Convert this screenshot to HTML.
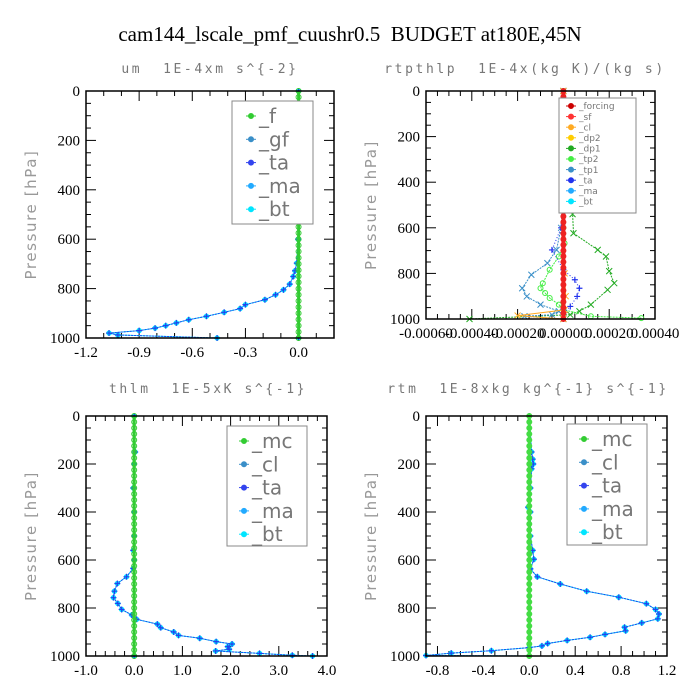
<!DOCTYPE html>
<html><head><meta charset="utf-8"><style>
body{margin:0;background:#fff;width:700px;height:700px;overflow:hidden}
svg{display:block}
text{white-space:pre}
</style></head><body>
<svg id="chart" width="700" height="700" xmlns="http://www.w3.org/2000/svg">
<text x="350" y="41" text-anchor="middle" font-family="Liberation Serif, serif" font-size="21" fill="#000">cam144_lscale_pmf_cuushr0.5  BUDGET at180E,45N</text>
</svg>
<script>
// ---------- data ----------
const zeroLevels = [0,25,50,75,100,125,150,175,200,225,250,275,300,325,350,375,400,425,450,475,500,525,550,575,600,625,650,675,700,725,750,775,800,825,850,875,900,925,950,975,1000];

// panel 1: um
const umP = [0,100,200,217,240,300,400,500,600,697,728,751,782,805,825,845,865,881,896,912,926,939,950,960,970,980,988,1000,1000];
const umV = [0,0,-0.005,-0.02,-0.005,0,0,0,-0.003,-0.01,-0.02,-0.03,-0.05,-0.085,-0.13,-0.19,-0.3,-0.33,-0.42,-0.52,-0.62,-0.69,-0.75,-0.81,-0.9,-1.07,-1.02,-0.46,0];

// panel 2: rtpthlp
const dp1P = [0,400,430,470,540,624,697,726,790,843,872,937,966,981,1000];
const dp1V = [0,0,0.00002,0.00003,0.00004,0.000044,0.00015,0.000186,0.0002,0.000222,0.000193,0.00012,0.00007,0.00003,-0.00041];
const tp2P = [0,600,668,726,784,843,865,886,908,937,959,988,996];
const tp2V = [0,0,0.000005,-0.00002,-0.00006,-0.00009,-0.0001,-0.00008,-0.00006,-0.00002,0,0.00012,0.00034];
const tp1P = [0,500,600,697,755,806,865,901,937,966,981,988,1000];
const tp1V = [0,-0.000005,-0.00001,-0.00003,-0.00007,-0.00014,-0.00018,-0.00016,-0.0001,-0.00002,-0.00005,-0.00017,0];
const taP2 = [0,500,600,697,784,828,865,901,945,974,1000];
const taV2 = [0,-0.000005,-0.00001,-0.00005,0,0.00005,0.00007,0.00006,0.00003,0,0];
const clP2 = [0,800,900,960,985,1000];
const clV2 = [0,0.000005,0.00001,0.000005,-0.0002,0];

// panel 3: thlm
const thP = [0,150,200,300,400,500,560,600,635,670,698,730,757,781,806,829,847,867,882,900,914,926,940,950,961,972,979,989,997,1000,1000];
const thV = [0,0.02,0,-0.02,0,0,-0.02,0,-0.02,-0.16,-0.35,-0.41,-0.43,-0.34,-0.26,-0.05,0.05,0.48,0.55,0.82,0.92,1.36,1.7,2.03,1.94,1.97,1.69,2.6,3.28,3.7,0];

// panel 4: rtm
const rtP = [0,150,180,200,220,300,380,400,500,560,597,637,670,700,730,755,782,806,825,845,862,880,895,910,922,935,948,958,965,978,988,998,1000];
const rtV = [0,0.02,0.03,0.035,0.02,0.01,-0.01,0.01,0.01,0.03,0.04,0.01,0.07,0.27,0.5,0.78,1.02,1.1,1.13,1.12,0.98,0.83,0.84,0.66,0.53,0.33,0.16,0.11,0,-0.33,-0.68,-0.9,0];

// ticks
const xTicks1 = [-1.2,-0.9,-0.6,-0.3,0.0];
const xTickLabels1 = ["-1.2","-0.9","-0.6","-0.3","0.0"];
const xTicks2 = [-0.0006,-0.0004,-0.0002,0,0.0002,0.0004];
const xTickLabels2 = ["-0.00060","-0.00040","-0.00020","0.00000","0.00020","0.00040"];
const xTicks3 = [-1,0,1,2,3,4];
const xTickLabels3 = ["-1.0","0.0","1.0","2.0","3.0","4.0"];
const xTicks4 = [-0.8,-0.4,0,0.4,0.8,1.2];
const xTickLabels4 = ["-0.8","-0.4","0.0","0.4","0.8","1.2"];
const yTicks = [0,200,400,600,800,1000];
const yTickLabels = ["0","200","400","600","800","1000"];

// ---------- drawing ----------
const svg = document.getElementById('chart');
const NS = 'http://www.w3.org/2000/svg';
function mk(tag, attrs, parent){
  const e = document.createElementNS(NS, tag);
  for (const k in attrs) e.setAttribute(k, attrs[k]);
  (parent||svg).appendChild(e);
  return e;
}

function panel(cfg){
  const g = mk('g', {});
  
  
  const L=cfg.l,R=cfg.r,T=cfg.t,B=cfg.b;
  const xs = v => L + (v - cfg.xmin)/(cfg.xmax - cfg.xmin)*(R-L);
  const ys = p => T + p/1000*(B-T);
  const sub = mk('text', {x:cfg.tx, y:cfg.ty, 'text-anchor':'middle','font-family':'DejaVu Sans Mono, Liberation Mono, monospace','font-size':'13','letter-spacing':'2.6',fill:'#777'}, g);
  sub.textContent = cfg.title;
  
  
  const yt = mk('text', {x:0,y:0,transform:`translate(${L-50},${(T+B)/2}) rotate(-90)`,'text-anchor':'middle','font-family':'DejaVu Sans, Liberation Sans, sans-serif','font-size':'15','letter-spacing':'1.6',fill:'#999'}, g);
  yt.textContent = 'Pressure [hPa]';
  
  
  for (let p=0;p<=1000;p+=50){
    const major = p%200===0, len = major?10:5;
    mk('line',{x1:L,x2:L+len,y1:ys(p),y2:ys(p),stroke:'#000','stroke-width':1},g);
    mk('line',{x1:R,x2:R-len,y1:ys(p),y2:ys(p),stroke:'#000','stroke-width':1},g);
  }
  yTicks.forEach((p,i)=>{
    const t = mk('text',{x:L-6,y:ys(p)+5,'text-anchor':'end','font-family':'Liberation Serif, serif','font-size':'15',fill:'#000'},g);
    t.textContent = yTickLabels[i];
    
    
  });
  const step = cfg.minor;
  for (let k=Math.ceil(cfg.xmin/step-1e-6); k*step<=cfg.xmax+1e-9; k++){
    const v=k*step; const X=xs(v);
    const major = cfg.xt.some(m=>Math.abs(m-v)<step*0.01);
    const len = major?10:5;
    mk('line',{x1:X,x2:X,y1:B,y2:B-len,stroke:'#000','stroke-width':1},g);
    mk('line',{x1:X,x2:X,y1:T,y2:T+len,stroke:'#000','stroke-width':1},g);
  }
  cfg.xt.forEach((v,i)=>{
    const t = mk('text',{x:xs(v),y:B+19,'text-anchor':'middle','font-family':'Liberation Serif, serif','font-size':'15',fill:'#000'},g);
    t.textContent = cfg.xl[i];
    
    
  });
  cfg.series.forEach(s=>{
    const sg = mk('g',{},g);
    
    
    const pts = s.p.map((p,i)=>xs(s.v[i]).toFixed(1)+','+ys(p).toFixed(1)).join(' ');
    mk('polyline',{points:pts,fill:'none',stroke:s.color,'stroke-width':s.w||1,'stroke-dasharray':s.dash||''},sg);
    s.p.forEach((p,i)=>{
      const X=xs(s.v[i]),Y=ys(p);
      if (s.marker==='circle') mk('circle',{cx:X,cy:Y,r:s.r||2.5,fill:s.fill||'none',stroke:s.color,'stroke-width':1},sg);
      else if (s.marker==='plus'){ mk('path',{d:`M${X-3},${Y}h6M${X},${Y-3}v6`,stroke:s.color,'stroke-width':1.2},sg);}
      else if (s.marker==='x'){ mk('path',{d:`M${X-3},${Y-3}l6,6M${X-3},${Y+3}l6,-6`,stroke:s.color,'stroke-width':1},sg);}
    });
  });
  mk('rect',{x:L,y:T,width:R-L,height:B-T,fill:'none',stroke:'#000','stroke-width':1.5},g);
  const lg = mk('g',{},g);
  
  
  const lb = cfg.leg;
  mk('rect',{x:lb.x,y:lb.y,width:lb.w,height:lb.h,fill:'#fff',stroke:'#888','stroke-width':1},lg);
  lb.items.forEach((it,i)=>{
    const Y = lb.y+lb.y0+i*lb.dy;
    const e = mk('g',{},lg);
    
    
    mk('line',{x1:lb.x+lb.mx-5,x2:lb.x+lb.mx+5,y1:Y,y2:Y,stroke:it[1],'stroke-width':1},e);
    mk('circle',{cx:lb.x+lb.mx,cy:Y,r:2.5,fill:it[1],stroke:it[1]},e);
    const t = mk('text',{x:lb.x+lb.mx+8,y:Y+lb.fs*0.35,'font-family':'DejaVu Sans, Liberation Sans, sans-serif','font-size':lb.fs,fill:'#777'},e);
    t.textContent = it[0];
  });
}

const zeroV = zeroLevels.map(()=>0);
const legA = [['_f','#33cc33'],['_gf','#3a8fc8'],['_ta','#3344ee'],['_ma','#22aaff'],['_bt','#00e5ff']];
const legB = [['_mc','#33cc33'],['_cl','#3a8fc8'],['_ta','#3344ee'],['_ma','#22aaff'],['_bt','#00e5ff']];

panel({name:'panel-um',title:'um  1E-4xm s^{-2}',tx:210,ty:73,l:86,r:334,t:91,b:338,xmin:-1.2,xmax:0.2,minor:0.1,xt:xTicks1,xl:xTickLabels1,
 series:[
  {name:'bt',p:umP,v:umV,color:'#00e5ff',marker:'circle',fill:'#00e5ff',r:2.2},
  {name:'ta',p:umP,v:umV,color:'#2244ee',marker:'plus',dash:'2,1'},
  {name:'f',p:zeroLevels,v:zeroV,color:'#33cc33',marker:'circle',w:3}
 ],
 leg:{x:232,y:101,w:81,h:123,mx:19,y0:15,dy:23.3,fs:20,items:legA}});

panel({name:'panel-rtpthlp',title:'rtpthlp  1E-4x(kg K)/(kg s)',tx:525,ty:73,l:426,r:655,t:91,b:319,xmin:-0.0006,xmax:0.0004,minor:0.00005,xt:xTicks2,xl:xTickLabels2,
 series:[
  {name:'dp1',p:dp1P,v:dp1V,color:'#22aa22',marker:'x',dash:'2,1'},
  {name:'tp2',p:tp2P,v:tp2V,color:'#44ee44',marker:'circle',dash:'2,1'},
  {name:'tp1',p:tp1P,v:tp1V,color:'#3a8fc8',marker:'x',dash:'2,1'},
  {name:'ta',p:taP2,v:taV2,color:'#2233ee',marker:'plus',dash:'1,2'},
  {name:'cl',p:clP2,v:clV2,color:'#ffaa22',marker:'x'},
  {name:'forcing',p:zeroLevels,v:zeroV,color:'#ee2222',marker:'circle',w:4,fill:'#ee2222',r:2.5}
 ],
 leg:{x:559,y:98,w:77,h:115,mx:12,y0:8,dy:10.6,fs:9,
  items:[['_forcing','#cc0000'],['_sf','#ff3333'],['_cl','#ffaa22'],['_dp2','#ffcc00'],['_dp1','#22aa22'],['_tp2','#44ee44'],['_tp1','#3a8fc8'],['_ta','#2233ee'],['_ma','#22aaff'],['_bt','#00e5ff']]}});

panel({name:'panel-thlm',title:'thlm  1E-5xK s^{-1}',tx:208,ty:393,l:86,r:327,t:416,b:656,xmin:-1,xmax:4,minor:0.2,xt:xTicks3,xl:xTickLabels3,
 series:[
  {name:'bt',p:thP,v:thV,color:'#00e5ff',marker:'circle',fill:'#00e5ff',r:2.2},
  {name:'ta',p:thP,v:thV,color:'#2244ee',marker:'plus',dash:'2,1'},
  {name:'mc',p:zeroLevels,v:zeroV,color:'#33cc33',marker:'circle',w:3}
 ],
 leg:{x:227,y:426,w:80,h:120,mx:17,y0:15,dy:23.3,fs:20,items:legB}});

panel({name:'panel-rtm',title:'rtm  1E-8xkg kg^{-1} s^{-1}',tx:528,ty:393,l:426,r:667,t:416,b:656,xmin:-0.9,xmax:1.2,minor:0.1,xt:xTicks4,xl:xTickLabels4,
 series:[
  {name:'bt',p:rtP,v:rtV,color:'#00e5ff',marker:'circle',fill:'#00e5ff',r:2.2},
  {name:'ta',p:rtP,v:rtV,color:'#2244ee',marker:'plus',dash:'2,1'},
  {name:'mc',p:zeroLevels,v:zeroV,color:'#44dd44',marker:'circle',w:3,fill:'#44dd44'}
 ],
 leg:{x:567,y:424,w:80,h:121,mx:17,y0:15,dy:23.3,fs:20,items:legB}});
</script>
</body></html>
